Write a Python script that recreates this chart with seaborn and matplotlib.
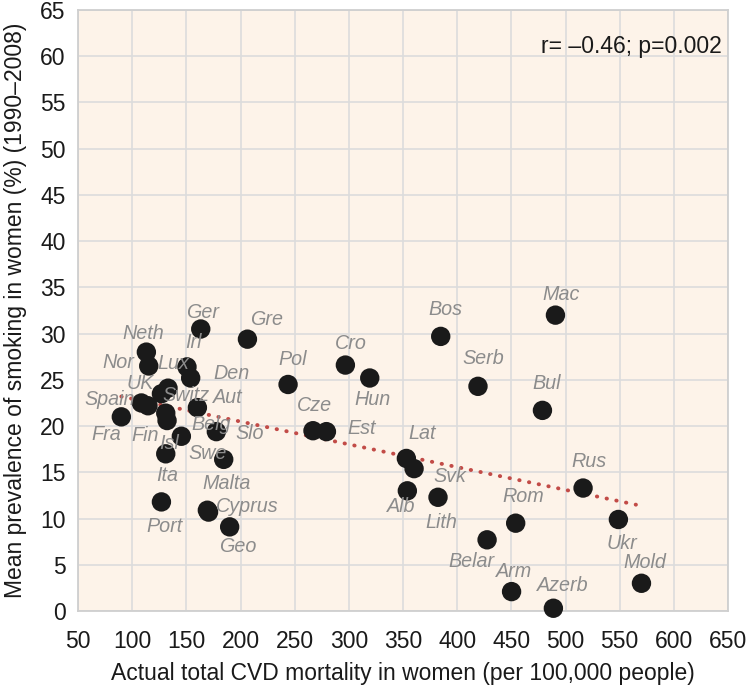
import numpy as np
import pandas as pd
import matplotlib
matplotlib.use("Agg")
import matplotlib.pyplot as plt
import seaborn as sns

# data
countries = ["Ger", "Gre", "Neth", "Nor", "Irl", "Den", "Lux", "UK", "Switz", "Spain",
             "Aut", "Fra", "Fin", "Belg", "Isl", "Slo", "Swe", "Ita", "Port", "Malta",
             "Cyprus", "Geo", "Pol", "Cro", "Hun", "Cze", "Est", "Lat", "Svk", "Alb",
             "Lith", "Bos", "Serb", "Mac", "Bul", "Rus", "Rom", "Belar", "Ukr", "Mold",
             "Arm", "Azerb"]
mortality = [163.3, 206.4, 113.1, 115.3, 150.6, 154.0, 127.0, 114.6, 133.1, 108.5,
             160.2, 90.0, 131.0, 132.2, 145.4, 177.7, 184.5, 131.0, 127.0, 169.4,
             170.5, 190.0, 243.9, 296.8, 319.3, 266.9, 279.3, 353.1, 360.2, 354.0,
             382.3, 384.8, 419.2, 490.7, 478.7, 516.2, 454.0, 427.6, 548.8, 570.1,
             450.2, 488.8]
smoking = [30.5, 29.4, 28.0, 26.5, 26.4, 25.2, 23.5, 22.2, 24.1, 22.5,
           22.0, 21.0, 21.4, 20.6, 18.9, 19.4, 16.4, 17.0, 11.8, 10.9,
           10.7, 9.1, 24.5, 26.6, 25.2, 19.5, 19.4, 16.5, 15.4, 13.0,
           12.3, 29.7, 24.3, 32.0, 21.7, 13.3, 9.5, 7.7, 9.9, 3.0,
           2.1, 0.3]

# dotted trend line end points
trend_x = [90, 565]
trend_y = [23.2, 11.5]

x_ticks = list(range(50, 651, 50))
y_ticks = list(range(0, 66, 5))

# label placement (pixel offsets from each point)
label_offsets = {
    "Ger": (2, 17), "Gre": (19, 20), "Neth": (-3, 19), "Nor": (-30, 3),
    "Irl": (6, 24), "Den": (41, 5), "Lux": (12, 30), "UK": (-8, 22),
    "Switz": (18, -7), "Spain": (-32, 3), "Aut": (30, 10), "Fra": (-15, -18),
    "Fin": (-21, -22), "Belg": (44, -4), "Isl": (-12, -7), "Slo": (33, -2),
    "Swe": (-16, 6), "Ita": (1, -22), "Port": (3, -25), "Malta": (19, 27),
    "Cyprus": (39, 6), "Geo": (8, -20), "Pol": (5, 25), "Cro": (5, 22),
    "Hun": (3, -21), "Cze": (1, 25), "Est": (35, 3), "Lat": (16, 25),
    "Svk": (36, -8), "Alb": (-6, -16), "Lith": (3, -25), "Bos": (5, 27),
    "Serb": (5, 28), "Mac": (6, 21), "Bul": (4, 27), "Rus": (6, 27),
    "Rom": (8, 27), "Belar": (-16, -22), "Ukr": (4, -24), "Mold": (3, 21),
    "Arm": (3, 20), "Azerb": (9, 23),
}

df = pd.DataFrame({"country": countries, "mortality": mortality, "smoking": smoking})

sns.set_style("whitegrid")
plt.rcParams["font.family"] = ["Liberation Sans", "DejaVu Sans"]

fig = plt.figure(figsize=(7.5, 6.85), dpi=100)
ax = fig.add_axes([0.104, 0.108, 0.8667, 0.8774])
ax.set_facecolor("#fdf3e9")

sns.lineplot(x=trend_x, y=trend_y, ax=ax, color="#c24b47", linewidth=2.8,
             linestyle=(0, (0.1, 2.45)), dash_capstyle="round", zorder=2)
sns.scatterplot(data=df, x="mortality", y="smoking", ax=ax, s=195,
                color="#1a1a1a", edgecolor="none", zorder=3, clip_on=False)

for name, xv, yv in zip(countries, mortality, smoking):
    dx, dy = label_offsets[name]
    ax.annotate(name, (xv, yv), xytext=(dx, dy), textcoords="offset pixels",
                ha="center", va="center", fontsize=14.2, style="italic",
                color="#8c8c8c", zorder=4)

ax.text(0.99, 0.94, "r= \u20130.46; p=0.002", transform=ax.transAxes,
        ha="right", va="center", fontsize=16.5, color="#1a1a1a")

ax.set_xlim(50, 650)
ax.set_ylim(0, 65)
ax.set_xticks(x_ticks)
ax.set_yticks(y_ticks)
ax.grid(True, color="#dcdcdc", linewidth=1.2)
ax.tick_params(axis="both", length=0, labelsize=16.5, colors="#1a1a1a")
ax.tick_params(axis="x", pad=13.5)
ax.tick_params(axis="y", pad=9)
for sp in ax.spines.values():
    sp.set_color("#cfcfcf")
    sp.set_linewidth(1.3)

ax.set_xlabel("Actual total CVD mortality in women (per 100,000 people)",
              fontsize=16.5, color="#1a1a1a", labelpad=7)
ax.set_ylabel("Mean prevalence of smoking in women (%) (1990\u20132008)",
              fontsize=16.5, color="#1a1a1a", labelpad=9)

fig.savefig("out.png", dpi=100)
